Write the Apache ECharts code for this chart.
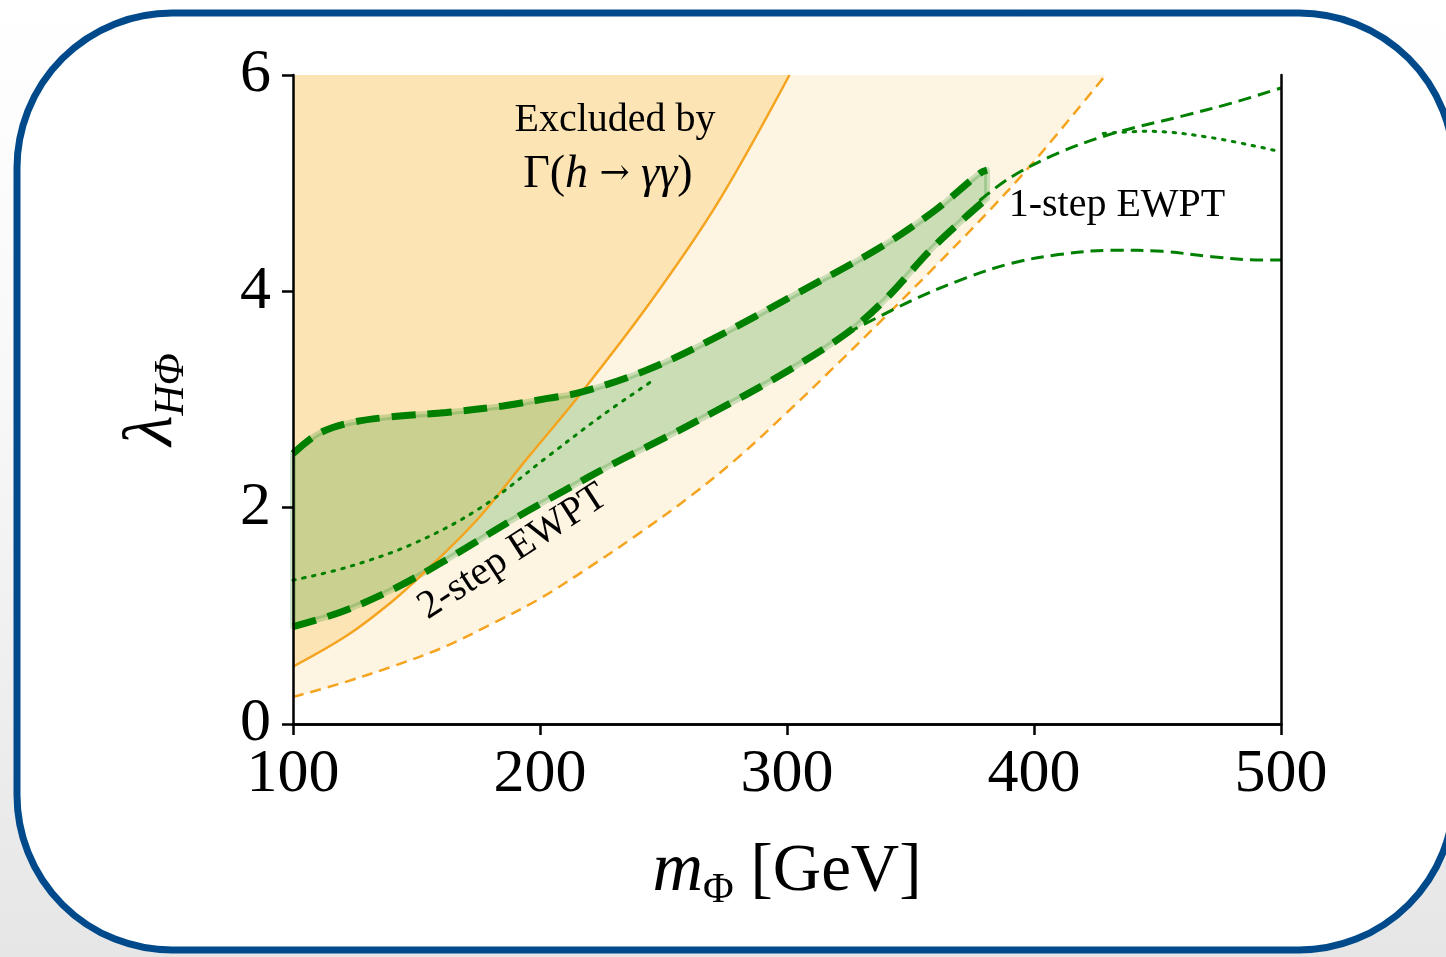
<!DOCTYPE html>
<html>
<head>
<meta charset="utf-8">
<title>EWPT parameter space</title>
<script src="https://cdn.jsdelivr.net/npm/echarts@6/dist/echarts.min.js"></script>
<style>
    html, body { margin: 0; padding: 0; }
    body { background: linear-gradient(to bottom, #ffffff 0%, #f8f8f8 40%, #e6e6e6 100%); }
    #main { width: 1446px; height: 957px; }
</style>
</head>
<body>
<div id="main"></div>
<script>
    // axis ranges
    var xRange = [100, 500];
    var yRange = [0, 6];

    // h -> gamma gamma exclusion: solid = current bound, dashed = projected bound
    var excludedSolid = [[100, 0.53], [122, 0.82], [140, 1.13], [154, 1.42], [175, 1.90], [195, 2.46],
        [217, 3.07], [245, 3.91], [272, 4.82], [301, 6.0]];
    var excludedDashed = [[100, 0.25], [120, 0.38], [140, 0.53], [160, 0.70], [180, 0.92], [200, 1.16],
        [220, 1.45], [240, 1.76], [260, 2.09], [280, 2.46], [300, 2.88], [320, 3.32], [340, 3.77],
        [360, 4.23], [380, 4.70], [400, 5.20], [429, 6.0]];

    // 2-step EWPT band
    var twoStepUpper = [[100, 2.5], [110, 2.68], [122, 2.78], [140, 2.84], [162, 2.88], [185, 2.94],
        [203, 3.01], [217, 3.07], [243, 3.27], [270, 3.56], [304, 3.98], [338, 4.41], [360, 4.75],
        [378, 5.09], [381, 5.12]];
    var twoStepLower = [[100, 0.90], [120, 1.04], [140, 1.24], [160, 1.49], [189, 1.89], [210, 2.16],
        [230, 2.41], [250, 2.64], [270, 2.88], [297, 3.22], [324, 3.61], [340, 3.93], [358, 4.38],
        [372, 4.68], [381, 4.86]];
    var twoStepMid = [[100, 1.33], [122, 1.45], [149, 1.67], [176, 2.0], [203, 2.47], [225, 2.85], [246, 3.18]];

    // 1-step EWPT curves
    var oneStepUpper = [[378, 4.84], [391, 5.06], [410, 5.28], [432, 5.46], [460, 5.62], [480, 5.74], [500, 5.88]];
    var oneStepMid = [[428, 5.46], [446, 5.48], [472, 5.42], [500, 5.29]];
    var oneStepLower = [[324, 3.61], [351, 3.92], [372, 4.12], [391, 4.26], [410, 4.34], [432, 4.38],
        [452, 4.37], [472, 4.32], [490, 4.29], [500, 4.29]];

    // text annotations, anchored in data coordinates
    var notes = [
        { value: [230.4, 5.58], text: 'Excluded by', rotate: 0 },
        { value: [227.5, 5.08], text: '{r|Γ(}{i|h}{a| → }{i|γγ}{r|)}', rotate: 0 },
        { value: [433.6, 4.79], text: '1-step EWPT', rotate: 0 },
        { value: [189, 1.59], text: '2-step EWPT', rotate: 33 }
    ];

    var serif = 'Liberation Serif';
    var orange = '#f5a41f';
    var green = '#008000';
    var SMOOTH = 0.35;

    var chart = echarts.init(document.getElementById('main'));

    function curve(data, color, width, dash, extra) {
        var s = {
            type: 'line',
            data: data,
            smooth: SMOOTH,
            showSymbol: false,
            silent: true,
            lineStyle: { color: color, width: width, type: dash, cap: 'butt' },
            z: 3
        };
        return Object.assign(s, extra || {});
    }

    // same kind of bezier smoothing the line series uses, sampled in pixel space
    function smoothPixels(pts) {
        var out = [pts[0]];
        var n = pts.length;
        function ctrl(i) {
            var p = pts[i], prev = pts[Math.max(i - 1, 0)], next = pts[Math.min(i + 1, n - 1)];
            var vx = next[0] - prev[0], vy = next[1] - prev[1];
            var d0 = Math.hypot(p[0] - prev[0], p[1] - prev[1]);
            var d1 = Math.hypot(next[0] - p[0], next[1] - p[1]);
            var r = (d0 + d1) ? d1 / (d0 + d1) : 0.5;
            return {
                before: [p[0] - vx * SMOOTH * (1 - r), p[1] - vy * SMOOTH * (1 - r)],
                after: [p[0] + vx * SMOOTH * r, p[1] + vy * SMOOTH * r]
            };
        }
        for (var i = 0; i < n - 1; i++) {
            var a = pts[i], b = pts[i + 1];
            var c1 = ctrl(i).after, c2 = ctrl(i + 1).before;
            for (var k = 1; k <= 12; k++) {
                var t = k / 12, u = 1 - t;
                out.push([
                    u * u * u * a[0] + 3 * u * u * t * c1[0] + 3 * u * t * t * c2[0] + t * t * t * b[0],
                    u * u * u * a[1] + 3 * u * u * t * c1[1] + 3 * u * t * t * c2[1] + t * t * t * b[1]
                ]);
            }
        }
        return out;
    }

    var option = {
        animation: false,
        graphic: [{
            type: 'rect',
            z: -10,
            silent: true,
            shape: { x: 17, y: 13, width: 1437, height: 937, r: 155 },
            style: { fill: '#ffffff', stroke: '#004a8c', lineWidth: 7 }
        }],
        grid: { left: 293, top: 75, right: 165, bottom: 233 },
        xAxis: [{
            type: 'value', min: xRange[0], max: xRange[1], interval: 100,
            splitLine: { show: false },
            axisLine: { lineStyle: { color: '#000', width: 2.5 } },
            axisTick: { length: 11, lineStyle: { color: '#000', width: 2.5 } },
            axisLabel: { color: '#000', fontFamily: serif, fontSize: 62, margin: 20 },
            name: '{m|m}{s|Φ}{t| [GeV]}',
            nameLocation: 'middle', nameGap: 108,
            nameTextStyle: {
                rich: {
                    m: { fontFamily: serif, fontStyle: 'italic', fontSize: 70, lineHeight: 80, verticalAlign: 'middle', color: '#000' },
                    s: { fontFamily: serif, fontSize: 42, lineHeight: 40, verticalAlign: 'bottom', color: '#000' },
                    t: { fontFamily: serif, fontSize: 67, lineHeight: 80, verticalAlign: 'middle', color: '#000' }
                }
            },
            z: 10
        }, {
            type: 'value', min: xRange[0], max: xRange[1], position: 'top',
            splitLine: { show: false }, axisTick: { show: false }, axisLabel: { show: false },
            axisLine: { lineStyle: { color: '#000', width: 2.5 } }, z: 10
        }],
        yAxis: [{
            type: 'value', min: yRange[0], max: yRange[1], interval: 2,
            splitLine: { show: false },
            axisLine: { lineStyle: { color: '#000', width: 2.5 } },
            axisTick: { length: 11, lineStyle: { color: '#000', width: 2.5 } },
            axisLabel: { color: '#000', fontFamily: serif, fontSize: 62, margin: 22 },
            name: '{l|λ}{s|HΦ}',
            nameLocation: 'middle', nameGap: 100,
            nameTextStyle: {
                rich: {
                    l: { fontFamily: serif, fontStyle: 'italic', fontSize: 70, lineHeight: 80, verticalAlign: 'middle', color: '#000' },
                    s: { fontFamily: serif, fontStyle: 'italic', fontSize: 42, lineHeight: 40, verticalAlign: 'bottom', color: '#000' }
                }
            },
            z: 10
        }, {
            type: 'value', min: yRange[0], max: yRange[1], position: 'right',
            splitLine: { show: false }, axisTick: { show: false }, axisLabel: { show: false },
            axisLine: { lineStyle: { color: '#000', width: 2.5 } }, z: 10
        }],
        series: [
            // projected exclusion (light) and current exclusion (darker), both filled up to the top
            curve(excludedDashed, orange, 2.5, [11, 7], {
                areaStyle: { origin: 'end', color: '#fef4e2', opacity: 1 }, z: 1
            }),
            curve(excludedSolid, orange, 0, 'solid', {
                areaStyle: { origin: 'end', color: '#fde4b4', opacity: 1 }, z: 1
            }),
            // 2-step band
            {
                type: 'custom',
                silent: true,
                data: [[twoStepUpper[0][0], twoStepUpper[0][1]]],
                renderItem: function (params, api) {
                    var up = smoothPixels(twoStepUpper.map(function (p) { return api.coord(p); }));
                    var lo = smoothPixels(twoStepLower.slice().reverse().map(function (p) { return api.coord(p); }));
                    return {
                        type: 'polygon',
                        shape: { points: up.concat(lo) },
                        style: { fill: 'rgba(0,128,0,0.2)', stroke: 'rgba(0,128,0,0.2)', lineWidth: 6, lineJoin: 'round' }
                    };
                },
                z: 2
            },
            curve(excludedSolid, orange, 2.5, 'solid'),
            curve(twoStepUpper, green, 7, [24, 12]),
            curve(twoStepLower, green, 7, [24, 12]),
            curve(twoStepMid, green, 3, [2.5, 7.5], { lineStyle: { color: green, width: 3, type: [2.5, 7.5], cap: 'round' } }),
            curve(oneStepUpper, green, 3, [13, 7]),
            curve(oneStepMid, green, 3, [2.5, 7.5], { lineStyle: { color: green, width: 3, type: [2.5, 7.5], cap: 'round' } }),
            curve(oneStepLower, green, 3, [13, 7]),
            {
                type: 'scatter',
                silent: true,
                symbolSize: 0,
                itemStyle: { color: 'rgba(0,0,0,0)', opacity: 1 },
                data: notes.map(function (n) {
                    return { value: n.value, label: { formatter: n.text, rotate: n.rotate } };
                }),
                label: {
                    show: true,
                    position: 'inside',
                    color: '#000',
                    opacity: 1,
                    textBorderWidth: 0,
                    fontFamily: serif,
                    fontSize: 40,
                    rich: {
                        r: { fontFamily: serif, fontSize: 46, color: '#000', textBorderWidth: 0 },
                        i: { fontFamily: serif, fontStyle: 'italic', fontSize: 46, color: '#000', textBorderWidth: 0 },
                        a: { fontFamily: 'DejaVu Serif', fontSize: 36, color: '#000', textBorderWidth: 0 }
                    }
                },
                z: 12
            }
        ]
    };

    chart.setOption(option);
</script>
</body>
</html>
